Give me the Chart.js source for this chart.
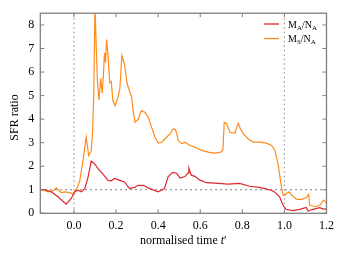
<!DOCTYPE html>
<html><head><meta charset="utf-8">
<script src="https://cdn.jsdelivr.net/npm/chart.js@4"></script>
<style>html,body{margin:0;padding:0;background:#fff}#wrap{width:346px;height:260px}</style>
</head><body><div id="wrap"><canvas id="c"></canvas></div>
<script>
const xTicks = [0.0, 0.2, 0.4, 0.6, 0.8, 1.0, 1.2];
const yTicks = [0, 1, 2, 3, 4, 5, 6, 7, 8];
const seriesNames = [["M","A","N","A"],["M","S","N","A"]];
const xTitle = ["normalised time ", "t", "\u2032"];
const yTitle = "SFR ratio";
const msX = [-0.16,-0.14,-0.124,-0.1,-0.084,-0.07,-0.06,-0.044,-0.02,-0.005,0.011,0.027,0.043,0.058,0.07,0.082,0.088,0.094,0.1,0.106,0.112,0.119,0.127,0.134,0.14,0.145,0.15,0.155,0.161,0.17,0.177,0.185,0.196,0.209,0.218,0.228,0.24,0.253,0.262,0.274,0.282,0.29,0.305,0.32,0.337,0.353,0.369,0.385,0.4,0.417,0.44,0.456,0.472,0.483,0.496,0.512,0.527,0.551,0.575,0.607,0.638,0.67,0.698,0.708,0.714,0.725,0.741,0.765,0.775,0.781,0.79,0.805,0.828,0.852,0.884,0.915,0.939,0.955,0.971,0.979,0.987,0.994,1.002,1.01,1.023,1.034,1.058,1.082,1.105,1.115,1.12,1.145,1.17,1.185,1.2];
const msY = [1.0,0.98,0.91,0.95,1.08,0.95,0.88,0.91,0.88,0.82,1.0,1.35,2.25,3.23,2.45,2.65,3.4,5.0,8.9,7.0,5.5,4.82,5.72,5.1,5.9,6.82,6.4,7.38,6.8,5.55,5.6,4.78,4.57,4.92,5.3,6.71,6.33,5.49,5.25,4.92,4.3,3.87,4.0,4.36,4.29,4.08,3.65,3.23,2.98,3.02,3.23,3.37,3.59,3.55,3.09,2.95,3.02,2.88,2.81,2.67,2.6,2.56,2.6,2.7,3.87,3.82,3.44,3.4,3.7,3.82,3.6,3.37,3.16,3.02,3.02,2.98,2.88,2.67,2.04,1.54,1.05,0.77,0.77,0.84,0.91,0.77,0.59,0.59,0.67,0.81,0.35,0.28,0.35,0.56,0.45];
const maX = [-0.16,-0.14,-0.108,-0.076,-0.037,-0.013,0.003,0.019,0.035,0.051,0.067,0.082,0.098,0.114,0.138,0.162,0.177,0.193,0.217,0.24,0.264,0.288,0.304,0.33,0.353,0.4,0.43,0.447,0.469,0.488,0.504,0.527,0.542,0.546,0.557,0.575,0.597,0.629,0.686,0.733,0.787,0.835,0.882,0.937,0.953,0.977,0.993,1.008,1.04,1.072,1.104,1.112,1.136,1.167,1.19,1.2];
const maY = [1.0,1.01,0.91,0.7,0.39,0.63,0.91,0.98,0.91,1.05,1.54,2.22,2.11,1.9,1.66,1.4,1.38,1.48,1.4,1.33,1.05,1.1,1.19,1.19,1.08,0.91,1.05,1.55,1.74,1.7,1.5,1.56,1.71,1.92,1.62,1.57,1.42,1.3,1.27,1.24,1.27,1.15,1.1,0.98,0.91,0.7,0.35,0.17,0.11,0.17,0.25,0.1,0.17,0.24,0.17,0.2];
const refX = [0.0, 1.0];
const refY = 1;
const xMin = -0.16, xMax = 1.2, yMin = 0, yMax = 8.5;

const RED = '#e0262b', ORANGE = '#ff8c1a';
const pts = (xs, ys) => xs.map((x, i) => ({x, y: ys[i]}));
const FAM = '"Liberation Serif", serif';
const font = {family: FAM, size: 12};

const datasets = [
  {label: 'MA/NA', data: pts(maX, maY), borderColor: RED, borderWidth: 1.2},
  {label: 'MS/NA', data: pts(msX, msY), borderColor: ORANGE, borderWidth: 1.2},
  ...refX.map(v => ({label: 'ref', data: [{x: v, y: yMin}, {x: v, y: yMax}], borderColor: '#999', borderWidth: 1.2, borderDash: [1.5, 3]})),
  {label: 'ref', data: [{x: xMin, y: refY}, {x: xMax, y: refY}], borderColor: '#555', borderWidth: 1, borderDash: [1.5, 3.5]}
];
datasets.forEach(d => { d.showLine = true; d.pointRadius = 0; d.fill = false; d.tension = 0; });

const framePlugin = {
  id: 'frame',
  afterDraw(chart) {
    const {ctx, chartArea: a, scales: {x, y}} = chart;
    ctx.save();
    ctx.strokeStyle = '#7f7f7f';
    ctx.lineWidth = 1.3;
    ctx.strokeRect(a.left, a.top, a.right - a.left, a.bottom - a.top);
    ctx.lineWidth = 1;
    const L = 4;
    ctx.beginPath();
    xTicks.forEach(v => { const p = x.getPixelForValue(v); ctx.moveTo(p, a.bottom); ctx.lineTo(p, a.bottom - L); ctx.moveTo(p, a.top); ctx.lineTo(p, a.top + L); });
    yTicks.forEach(v => { const p = y.getPixelForValue(v); ctx.moveTo(a.left, p); ctx.lineTo(a.left + L, p); ctx.moveTo(a.right, p); ctx.lineTo(a.right - L, p); });
    ctx.stroke();
    // legend
    const cols = [RED, ORANGE];
    const ly = [24, 38.5];
    ctx.textBaseline = 'alphabetic';
    ctx.textAlign = 'left';
    seriesNames.forEach((n, i) => {
      ctx.strokeStyle = cols[i]; ctx.lineWidth = 1.3;
      ctx.beginPath(); ctx.moveTo(264, ly[i]); ctx.lineTo(279, ly[i]); ctx.stroke();
      let px = 288; const base = ly[i] + 3.5;
      ctx.fillStyle = '#000';
      const big = '10px ' + FAM, small = '7px ' + FAM;
      const parts = [[n[0], big, 0], [n[1], small, 2], ['/' + n[2], big, 0], [n[3], small, 2]];
      parts.forEach(([t, f, dy]) => { ctx.font = f; ctx.fillText(t, px, base + dy); px += ctx.measureText(t).width; });
    });
    // x axis title with italic t
    const fonts = ['12px ' + FAM, 'italic 12px ' + FAM, '12px ' + FAM];
    let w = 0;
    xTitle.forEach((t, i) => { ctx.font = fonts[i]; w += ctx.measureText(t).width; });
    let tx = (a.left + a.right) / 2 - w / 2;
    ctx.fillStyle = '#000';
    xTitle.forEach((t, i) => { ctx.font = fonts[i]; ctx.fillText(t, tx, 244); tx += ctx.measureText(t).width; });
    // y axis title
    ctx.translate(15, 117.5);
    ctx.rotate(-Math.PI / 2);
    ctx.font = '12px ' + FAM;
    ctx.textAlign = 'center';
    ctx.textBaseline = 'middle';
    ctx.fillText(yTitle, 0, 0);
    ctx.restore();
  }
};

new Chart(document.getElementById('c'), {
  type: 'scatter',
  data: {datasets},
  plugins: [framePlugin],
  options: {
    responsive: true, maintainAspectRatio: false, animation: false,
    layout: {padding: {top: 12, right: 19.5, left: 0, bottom: 0}},
    plugins: {legend: {display: false}, tooltip: {enabled: false}},
    scales: {
      x: {
        type: 'linear', min: xMin, max: xMax,
        afterBuildTicks: s => { s.ticks = xTicks.map(v => ({value: v})); },
        afterFit: s => { s.height = 46.7; },
        grid: {display: false, drawTicks: false}, border: {display: false},
        ticks: {color: '#000', font, padding: 5, maxRotation: 0, callback: v => v.toFixed(1)},
        title: {display: false}
      },
      y: {
        type: 'linear', min: yMin, max: yMax,
        afterBuildTicks: s => { s.ticks = yTicks.map(v => ({value: v})); },
        afterFit: s => { s.width = 40.3; },
        grid: {display: false, drawTicks: false}, border: {display: false},
        ticks: {color: '#000', font, padding: 6},
        title: {display: false}
      }
    }
  }
});
</script></body></html>
